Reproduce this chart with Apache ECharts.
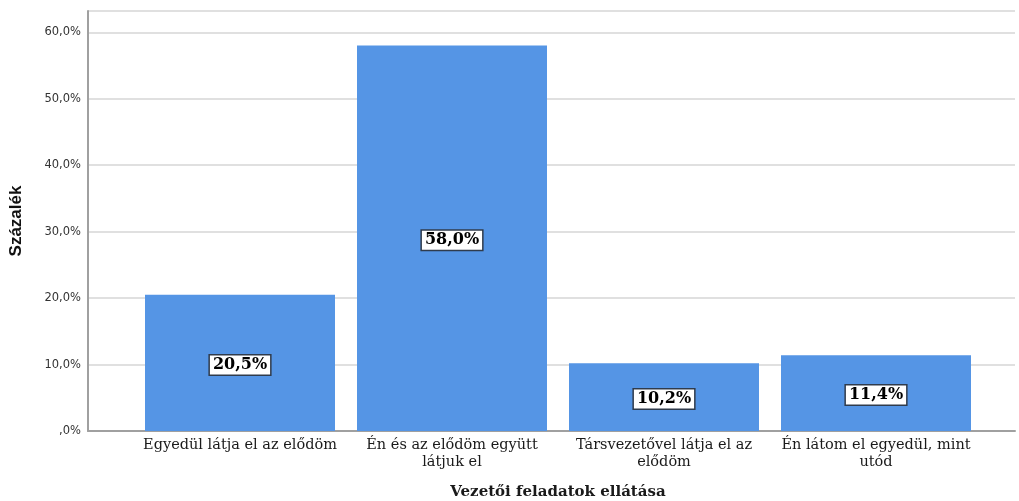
<!DOCTYPE html>
<html>
<head>
<meta charset="utf-8">
<script src="https://cdn.jsdelivr.net/npm/echarts@6/dist/echarts.min.js"></script>
<style>
  html, body { margin: 0; padding: 0; background: #fff; }
  #chart { width: 1019px; height: 501px; }
</style>
</head>
<body>
<div id="chart"></div>
<script>
// Categories and percentages
const categories = [
  'Egyedül látja el az elődöm',
  'Én és az elődöm együtt\nlátjuk el',
  'Társvezetővel látja el az\nelődöm',
  'Én látom el egyedül, mint\nutód'
];
const percentages = [20.5, 58.0, 10.2, 11.4];
const yTicks = [0, 10, 20, 30, 40, 50, 60];

const yTitle = 'Százalék';
const xTitle = 'Vezetői feladatok ellátása';

const pct = v => (v === 0 ? ',0' : v.toFixed(1).replace('.', ',')) + '%';

const Y_MAX = 63.2;
const serif = '"DejaVu Serif", "Liberation Serif", serif';

const chart = echarts.init(document.getElementById('chart'));
chart.setOption({
  animation: false,
  backgroundColor: '#ffffff',
  grid: [
    // frame: value axis, gridlines and baseline
    { left: 88, right: 4, top: 11, bottom: 70, outerBoundsMode: 'none' },
    // bars and category labels
    { left: 134, right: 37, top: 11, bottom: 70, outerBoundsMode: 'none' }
  ],
  xAxis: [
    {
      gridIndex: 0, type: 'value', min: 0, max: 1,
      axisLine: { show: true, lineStyle: { color: '#a0a0a0', width: 2 } },
      axisTick: { show: false }, axisLabel: { show: false }, splitLine: { show: false }
    },
    {
      gridIndex: 1, type: 'category', data: categories,
      axisLine: { show: false }, axisTick: { show: false },
      axisLabel: {
        interval: 0, margin: 6, color: '#1a1a1a',
        fontFamily: serif, fontSize: 14.5, lineHeight: 17
      },
      name: xTitle, nameLocation: 'middle', nameGap: 54,
      nameTextStyle: { fontFamily: serif, fontWeight: 'bold', fontSize: 15, color: '#1a1a1a' }
    }
  ],
  yAxis: [
    {
      gridIndex: 0, type: 'value', min: 0, max: Y_MAX, interval: 10,
      axisLine: { show: true, lineStyle: { color: '#a0a0a0', width: 2 } },
      axisTick: { show: false },
      axisLabel: {
        showMaxLabel: false, margin: 7, color: '#333',
        fontFamily: '"DejaVu Sans", sans-serif', fontSize: 11.5,
        formatter: v => (yTicks.includes(v) ? pct(v) : '')
      },
      splitLine: { show: true, lineStyle: { color: '#d6d6d6', width: 1.5 } },
      name: yTitle, nameLocation: 'middle', nameGap: 63, nameRotate: 90,
      nameTextStyle: { fontFamily: '"Liberation Sans", Arial, sans-serif', fontWeight: 'bold', fontSize: 17, color: '#111' }
    },
    {
      gridIndex: 1, type: 'value', min: 0, max: Y_MAX, show: false
    }
  ],
  series: [
    {
      type: 'bar', xAxisIndex: 1, yAxisIndex: 1,
      data: percentages, barWidth: 190,
      itemStyle: { color: '#5595e5' },
      label: {
        show: true, position: 'inside', offset: [0, 2],
        formatter: p => p.value.toFixed(1).replace('.', ',') + '%',
        fontFamily: serif, fontWeight: 'bold', fontSize: 16, color: '#000',
        backgroundColor: '#ffffff', borderColor: '#2f3b4c', borderWidth: 1.5,
        padding: [2, 3, 1, 3]
      }
    }
  ]
});
</script>
</body>
</html>
